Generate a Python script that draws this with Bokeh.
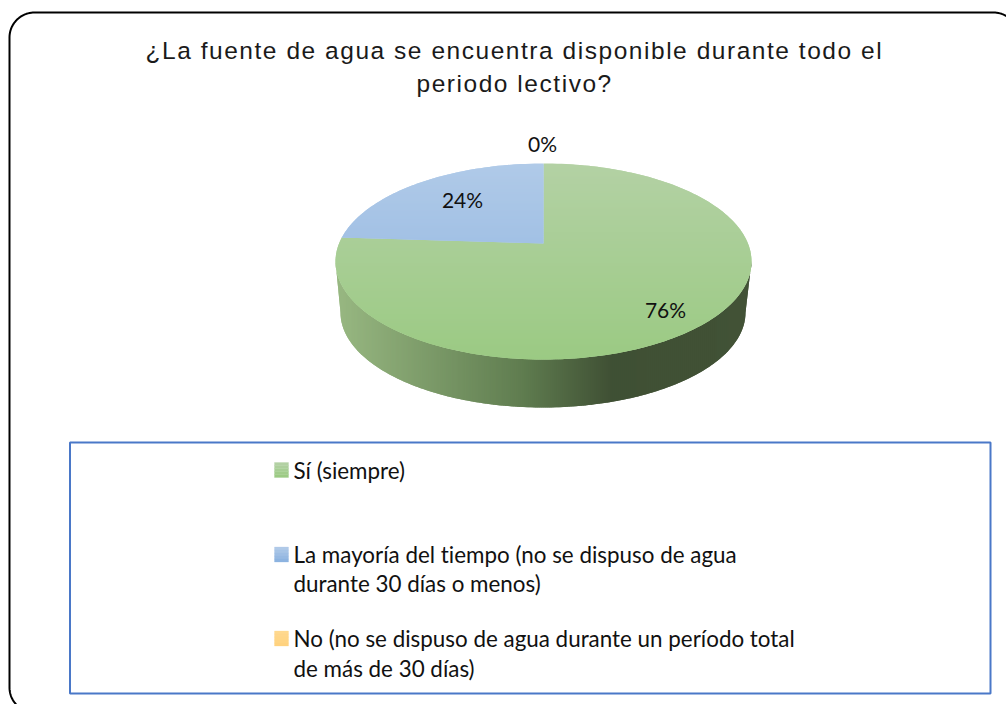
import math
from bokeh.plotting import figure
from bokeh.layouts import column
from bokeh.models import Range1d
from bokeh.core.properties import value
from bokeh.embed import file_html
from bokeh.resources import INLINE

# ---- data ----
categories = ["Sí (siempre)",
              "La mayoría del tiempo (no se dispuso de agua\ndurante 30 días o menos)",
              "No (no se dispuso de agua durante un período total\nde más de 30 días)"]
shares = [76, 24, 0]
share_labels = ["76%", "24%", "0%"]
title_lines = ["¿La fuente de agua se encuentra disponible durante todo el", "periodo lectivo?"]

# ---- colours (top, bottom of each gradient) ----
slice_top = ["#B3D1A4", "#B0CAE8", "#FFD98F"]
slice_bot = ["#9BCA83", "#8DB3E0", "#FFD27F"]
side_stops = [(335, (152, 184, 130)), (520, (96, 125, 80)), (612, (63, 80, 52)), (751, (66, 82, 54))]

# ---- layout (pixels of the page) ----
CX, CY, RX, RY = 543.0, 261.0, 208.0, 98.0      # top ellipse
LCX, LCY, LRX, LRY = 542.5, 312.0, 202.5, 95.0  # bottom ellipse of the rim
APEX_SHIFT = 0.184                              # perspective shift of the pie centre
HEAD_X0, HEAD_X1, HEAD_Y0, HEAD_Y1 = 120, 920, 25, 105  # title band, laid over the chart


def hexrgb(h):
    return tuple(int(h[i:i + 2], 16) for i in (1, 3, 5))


def mix(a, b, t):
    return "#%02x%02x%02x" % tuple(round(a[i] + (b[i] - a[i]) * t) for i in range(3))


def project(u, v):
    """Circle in its own plane -> ellipse on screen, with perspective."""
    c = APEX_SHIFT
    d = 1 + c * v
    return CX + RX * u * math.sqrt(1 - c * c) / d, CY - RY * (v + c) / d


def wedge_polygon(f0, f1):
    if f1 - f0 <= 0:
        return []
    n = max(2, int((f1 - f0) * 240))
    pts = [project(0, 0)]
    for i in range(n + 1):
        a = 2 * math.pi * (f0 + (f1 - f0) * i / n)
        pts.append(project(math.sin(a), math.cos(a)))
    return pts


def clip(poly, axis, lo, hi):
    def half(ps, keep, cross):
        out = []
        for i, p in enumerate(ps):
            q = ps[i - 1]
            if keep(p) != keep(q):
                t = (cross - q[axis]) / (p[axis] - q[axis])
                out.append((q[0] + (p[0] - q[0]) * t, q[1] + (p[1] - q[1]) * t))
            if keep(p):
                out.append(p)
        return out
    r = half(poly, lambda p: p[axis] >= lo, lo)
    return half(r, lambda p: p[axis] <= hi, hi) if r else r


p = figure(width=1006, height=704, x_range=Range1d(0, 1006), y_range=Range1d(704, 0),
           output_backend="svg", toolbar_location=None, x_axis_location=None, y_axis_location=None,
           min_border=0, outline_line_color=None, background_fill_color="white",
           styles={"font-variant-ligatures": "none"})
p.grid.visible = False

head = figure(width=HEAD_X1 - HEAD_X0, height=HEAD_Y1 - HEAD_Y0,
              x_range=Range1d(HEAD_X0, HEAD_X1), y_range=Range1d(HEAD_Y1, HEAD_Y0),
              output_backend="svg", toolbar_location=None, x_axis_location=None, y_axis_location=None,
              min_border=0, outline_line_color=None, background_fill_color="white",
              styles={"letter-spacing": "1.54px", "position": "absolute",
                      "left": f"{HEAD_X0}px", "top": f"{HEAD_Y0}px"})
head.grid.visible = False

# outer rounded frame
FL, FT, FR, FB, R = 9, 12, 1018, 712, 25
fx, fy = [], []
for cx, cy, a0 in [(FL + R, FT + R, 180), (FR - R, FT + R, 270), (FR - R, FB - R, 0), (FL + R, FB - R, 90)]:
    for k in range(25):
        a = math.radians(a0 + k * 90 / 24)
        fx.append(cx + R * math.cos(a))
        fy.append(cy + R * math.sin(a))
fx.append(fx[0]); fy.append(fy[0])
p.line(fx, fy, line_color="#000000", line_width=2)

# legend box
p.quad(left=[69.5], right=[990], top=[442], bottom=[693], fill_color=None,
       line_color="#4A78C8", line_width=2)

# rim of the pie
rim = [(CX + RX * math.cos(math.radians(a)), CY + RY * math.sin(math.radians(a))) for a in range(0, 181, 2)]
rim += [(LCX + LRX * math.cos(math.radians(a)), LCY + LRY * math.sin(math.radians(a))) for a in range(180, -1, -2)]


def side_colour(x):
    for (x0, c0), (x1, c1) in zip(side_stops, side_stops[1:]):
        if x <= x1:
            return mix(c0, c1, max(0, (x - x0) / (x1 - x0)))
    return mix(side_stops[-1][1], side_stops[-1][1], 0)


xs, ys, cs = [], [], []
x = 334.0
while x < 752:
    piece = clip(rim, 0, x, x + 4)          # bands overlap, so no seams show
    if piece:
        xs.append([q[0] for q in piece]); ys.append([q[1] for q in piece]); cs.append(side_colour(x + 1))
    x += 2
p.patches(xs, ys, fill_color=cs, line_color=None)

# top of the pie: one wedge per share, clockwise from 12 o'clock
xs, ys, cs = [], [], []
total = sum(shares)
f = 0.0
for s, ct, cb in zip(shares, slice_top, slice_bot):
    poly = wedge_polygon(f, f + s / total)
    f += s / total
    if not poly:
        continue
    top, bot = hexrgb(ct), hexrgb(cb)
    y = CY - RY - 1
    while y < CY + RY + 1:
        piece = clip(poly, 1, y, y + 4)
        if len(piece) > 2:
            xs.append([q[0] for q in piece]); ys.append([q[1] for q in piece])
            cs.append(mix(top, bot, min(1, max(0, (y + 1 - (CY - RY)) / (2 * RY)))))
        y += 2
p.patches(xs, ys, fill_color=cs, line_color=None)

font = value("Lato")
# value labels
p.text([665, 462, 542], [309, 199, 143], text=share_labels, text_font=font, text_font_size="21px",
       text_color="#111111", text_align="center", text_baseline="middle")

# title
head.text([145, 416], [49.5, 82.5], text=title_lines, text_font=value("Liberation Sans"), text_font_size="24.5px",
          text_color="#1a1a1a", text_align="left", text_baseline="middle")

# legend entries
swatch_y = [469.5, 554, 638]
line_ys = [[469.5], [553.5, 582.5], [637.5, 667.5]]
for cat, ct, cb, sy, lys in zip(categories, slice_top, slice_bot, swatch_y, line_ys):
    top, bot = hexrgb(ct), hexrgb(cb)
    for i in range(5):
        p.quad(left=[274], right=[288], top=[sy - 7.5 + i * 3], bottom=[sy - 7.5 + (i + 1) * 3],
               fill_color=mix(top, bot, i / 4), line_color=mix(top, bot, i / 4), line_width=0.3)
    p.text([293] * len(lys), lys, text=cat.split("\n"), text_font=font, text_font_size="22.4px",
           text_color="#111111", text_align="left", text_baseline="middle")

layout = column(p, head, spacing=0)
open("out.html", "w").write(file_html(layout, INLINE))
